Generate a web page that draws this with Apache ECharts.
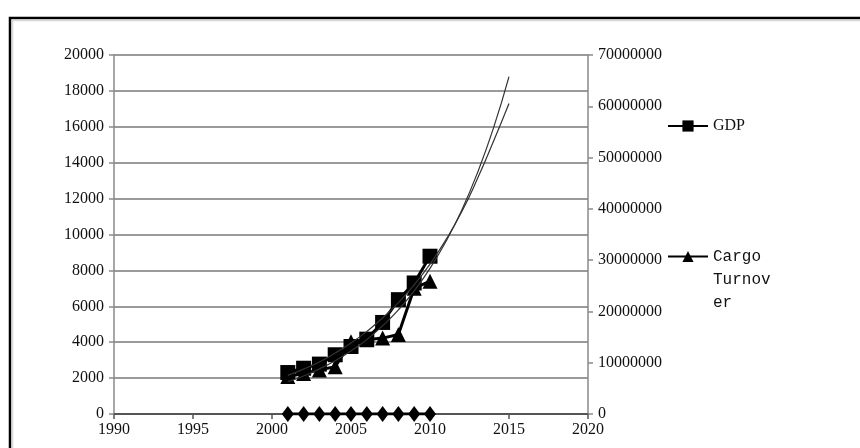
<!DOCTYPE html>
<html>
<head>
<meta charset="utf-8">
<script src="https://cdn.jsdelivr.net/npm/echarts@6/dist/echarts.min.js"></script>
<style>html,body{margin:0;padding:0;background:#fff}#c{width:860px;height:448px}</style>
</head>
<body>
<div id="c"></div>
<script>
var years = [2001, 2002, 2003, 2004, 2005, 2006, 2007, 2008, 2009, 2010];
var gdp = [2310, 2550, 2780, 3300, 3760, 4170, 5100, 6370, 7300, 8790];
var cargo = [7300000, 7900000, 8600000, 9200000, 14100000, 14500000, 14800000, 15500000, 24500000, 25900000];
var zeroSeries = [0, 0, 0, 0, 0, 0, 0, 0, 0, 0];
var trendYears = [2001, 2002, 2003, 2004, 2005, 2006, 2007, 2008, 2009, 2010, 2011, 2012, 2013, 2014, 2015];
var gdpTrend = [2150, 2500, 2900, 3400, 3950, 4600, 5350, 6200, 7200, 8350, 9700, 11250, 13100, 15150, 17300];
var cargoTrend = [6300000, 7400000, 8800000, 10400000, 12300000, 14500000, 17200000, 20300000, 24000000, 28400000, 33600000, 39700000, 47000000, 55600000, 65800000];
var xTicks = [1990, 2020, 5];
var leftTicks = [0, 20000, 2000];
var rightTicks = [0, 70000000, 10000000];

function pairs(xs, ys) { return xs.map(function (x, i) { return [x, ys[i]]; }); }
function plain(v) { return String(v); }

var serif = 'Liberation Serif';
var chart = echarts.init(document.getElementById('c'), null, { renderer: 'canvas' });
chart.setOption({
  animation: false,
  backgroundColor: '#fff',
  graphic: [{
    type: 'rect', z: -1, silent: true,
    shape: { x: 10, y: 18, width: 880, height: 460 },
    style: { fill: 'none', stroke: '#000', lineWidth: 2.5 }
  }, {
    type: 'rect', z: -1, silent: true,
    shape: { x: 12.5, y: 20.5, width: 880, height: 460 },
    style: { fill: 'none', stroke: '#d8d8d8', lineWidth: 1.5 }
  }],
  grid: { left: 114, right: 272, top: 55, bottom: 34, containLabel: false },
  legend: [{
    data: ['GDP'], left: 667, top: 118, padding: 0, orient: 'vertical',
    itemWidth: 40, itemHeight: 14,
    textStyle: { fontFamily: serif, fontSize: 16, color: '#111' }
  }, {
    data: ['Cargo Turnover'], left: 667, top: 199, padding: 0, orient: 'vertical',
    itemWidth: 40, itemHeight: 14,
    formatter: function () { return '\n\nCargo\nTurnov\ner'; },
    textStyle: { fontFamily: 'Liberation Mono', fontSize: 16, color: '#111', lineHeight: 23 }
  }],
  xAxis: {
    type: 'value', min: xTicks[0], max: xTicks[1], interval: xTicks[2],
    axisLine: { show: false },
    axisTick: { show: true, length: 5, lineStyle: { color: '#555', width: 1.5 } },
    axisLabel: { fontFamily: serif, fontSize: 16, color: '#111', margin: 8, formatter: plain },
    splitLine: { show: false }
  },
  yAxis: [{
    type: 'value', min: leftTicks[0], max: leftTicks[1], interval: leftTicks[2],
    axisLine: { show: true, lineStyle: { color: '#8a8a8a', width: 1.5 } },
    axisTick: { show: true, length: 5, lineStyle: { color: '#8a8a8a', width: 1.5 } },
    axisLabel: { fontFamily: serif, fontSize: 16, color: '#111', margin: 10, formatter: plain },
    splitLine: { show: true, lineStyle: { color: '#9a9a9a', width: 2 } }
  }, {
    type: 'value', min: rightTicks[0], max: rightTicks[1], interval: rightTicks[2],
    position: 'right',
    axisLine: { show: true, lineStyle: { color: '#8a8a8a', width: 1.5 } },
    axisTick: { show: true, length: 5, lineStyle: { color: '#8a8a8a', width: 1.5 } },
    axisLabel: { fontFamily: serif, fontSize: 16, color: '#111', margin: 10, formatter: plain },
    splitLine: { show: false }
  }],
  series: [{
    name: 'Baseline', type: 'line', yAxisIndex: 0, z: 1,
    data: [[1990, 0], [2020, 0]], symbol: 'none', silent: true,
    lineStyle: { color: '#555', width: 2 }
  }, {
    name: 'Zero', type: 'line', yAxisIndex: 0, z: 3,
    data: pairs(years, zeroSeries), symbol: 'diamond', symbolSize: [12, 16],
    itemStyle: { color: '#000' }, lineStyle: { color: '#000', width: 3 }
  }, {
    name: 'Cargo Turnover', type: 'line', yAxisIndex: 1, z: 4,
    data: pairs(years, cargo), symbol: 'triangle', symbolSize: 15,
    itemStyle: { color: '#000' }, lineStyle: { color: '#000', width: 3 }
  }, {
    name: 'GDP', type: 'line', yAxisIndex: 0, z: 5,
    data: pairs(years, gdp), symbol: 'rect', symbolSize: 15,
    itemStyle: { color: '#000' }, lineStyle: { color: '#000', width: 3 }
  }, {
    name: 'GDP trend', type: 'line', yAxisIndex: 0, z: 6, smooth: true,
    data: pairs(trendYears, gdpTrend), symbol: 'none',
    lineStyle: { color: '#333', width: 1.2 }
  }, {
    name: 'Cargo trend', type: 'line', yAxisIndex: 1, z: 6, smooth: true,
    data: pairs(trendYears, cargoTrend), symbol: 'none',
    lineStyle: { color: '#333', width: 1.2 }
  }]
});
</script>
</body>
</html>
